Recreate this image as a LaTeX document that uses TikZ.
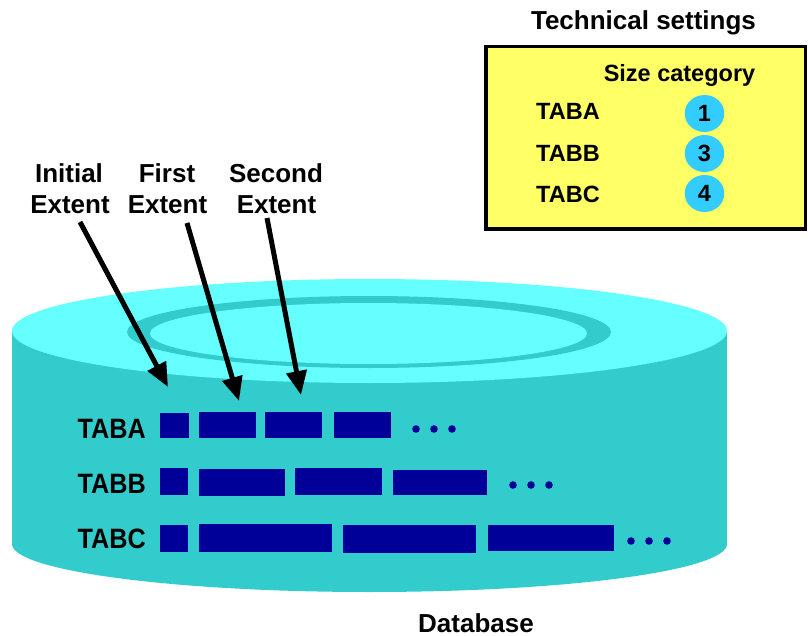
\documentclass[tikz,border=0pt]{standalone}
\usepackage{fontspec}
\setmainfont{Liberation Sans}
\usetikzlibrary{arrows.meta,shapes.geometric}
\definecolor{cylside}{HTML}{33CCCC}
\definecolor{cyltop}{HTML}{66FFFF}
\definecolor{blk}{HTML}{000099}
\definecolor{boxyel}{HTML}{FFFF66}
\definecolor{circblue}{HTML}{33CCFF}
\newcommand{\rowtxt}[1]{\scalebox{0.9}[1]{#1}}
\tikzset{
  lbl/.style={inner sep=0pt, font=\bfseries\fontsize{26}{31}\selectfont},
  rowlbl/.style={inner sep=0pt, font=\bfseries\fontsize{28}{33}\selectfont},
  boxlbl/.style={inner sep=0pt, font=\bfseries\fontsize{23.5}{28}\selectfont},
  arr/.style={line width=5pt, -{Triangle[length=24pt,width=20pt]}},
  blkfill/.style={fill=blk},
  dotfill/.style={fill=blk},
  sizecirc/.style={ellipse, fill=circblue, minimum width=39.5pt, minimum height=37pt, inner sep=0pt, font=\bfseries\fontsize{23.5}{28}\selectfont}
}
\begin{document}
\begin{tikzpicture}[x=1pt,y=-1pt]
\useasboundingbox (0,0) rectangle (808,636);
% cylinder
\fill[cylside] (12,331) rectangle (727,544);
\fill[cylside] (369.5,544) ellipse [x radius=357.5pt, y radius=48pt];
\fill[cyltop] (369.5,331) ellipse [x radius=357.5pt, y radius=52pt];
\fill[cylside] (369,332) ellipse [x radius=242pt, y radius=36pt];
\fill[cyltop] (368.5,333.5) ellipse [x radius=218.5pt, y radius=30.5pt];
% row labels
\node[rowlbl, anchor=base east] (ta) at (146,438) {\rowtxt{TABA}};
\node[rowlbl, anchor=base east] (tb) at (146,493) {\rowtxt{TABB}};
\node[rowlbl, anchor=base east] (tc) at (146,548) {\rowtxt{TABC}};
% TABA extents
\fill[blkfill] (160,413) rectangle (189,438);
\fill[blkfill] (199,412) rectangle (256,438);
\fill[blkfill] (265,412) rectangle (322,438);
\fill[blkfill] (334,412) rectangle (391,438);
\foreach \x in {416,434,452} \fill[dotfill] (\x,429) circle[radius=3.8pt];
% TABB extents
\fill[blkfill] (160,468) rectangle (188,495);
\fill[blkfill] (199,469) rectangle (285,496);
\fill[blkfill] (295,468) rectangle (382,495);
\fill[blkfill] (393,470) rectangle (487,495);
\foreach \x in {513,531,549} \fill[dotfill] (\x,485) circle[radius=3.8pt];
% TABC extents
\fill[blkfill] (160,525) rectangle (188,552);
\fill[blkfill] (199,524) rectangle (332,552);
\fill[blkfill] (343,525) rectangle (476,553);
\fill[blkfill] (488,525) rectangle (614,551);
\foreach \x in {631,649,667} \fill[dotfill] (\x,541) circle[radius=3.8pt];
% database label
\node[lbl, anchor=base] (db) at (476,632) {Database};
% extent labels
\node[lbl, anchor=base] (ini1) at (69,183) {Initial};
\node[lbl, anchor=base] (ini2) at (70,214) {Extent};
\node[lbl, anchor=base] (fir1) at (167,183) {First};
\node[lbl, anchor=base] (fir2) at (167.5,214) {Extent};
\node[lbl, anchor=base] (sec1) at (276,183) {Second};
\node[lbl, anchor=base] (sec2) at (276.5,214) {Extent};
% arrows
\coordinate (ia) at (80,222);
\coordinate (it) at (168,387);
\coordinate (fa) at (187,223);
\coordinate (ft) at (239,401);
\coordinate (sa) at (267,218);
\coordinate (st) at (301,395);
\draw[arr] (ia) -- (it);
\draw[arr] (fa) -- (ft);
\draw[arr] (sa) -- (st);
% technical settings box
\node[lbl, anchor=base] (tech) at (643.5,30) {Technical settings};
\draw[fill=boxyel, line width=3.5pt] (486,46.5) rectangle (805.5,229);
\node[boxlbl, anchor=base] (sizecat) at (679.5,82) {Size category};
\node[boxlbl, anchor=base west] (ba) at (536,120) {TABA};
\node[boxlbl, anchor=base west] (bb) at (536,162) {TABB};
\node[boxlbl, anchor=base west] (bc) at (536,203) {TABC};
\node[sizecirc] (c1) at (704.5,113.5) {1};
\node[sizecirc] (c3) at (704.5,153.5) {3};
\node[sizecirc] (c4) at (704.5,193.5) {4};
\end{tikzpicture}
\end{document}
